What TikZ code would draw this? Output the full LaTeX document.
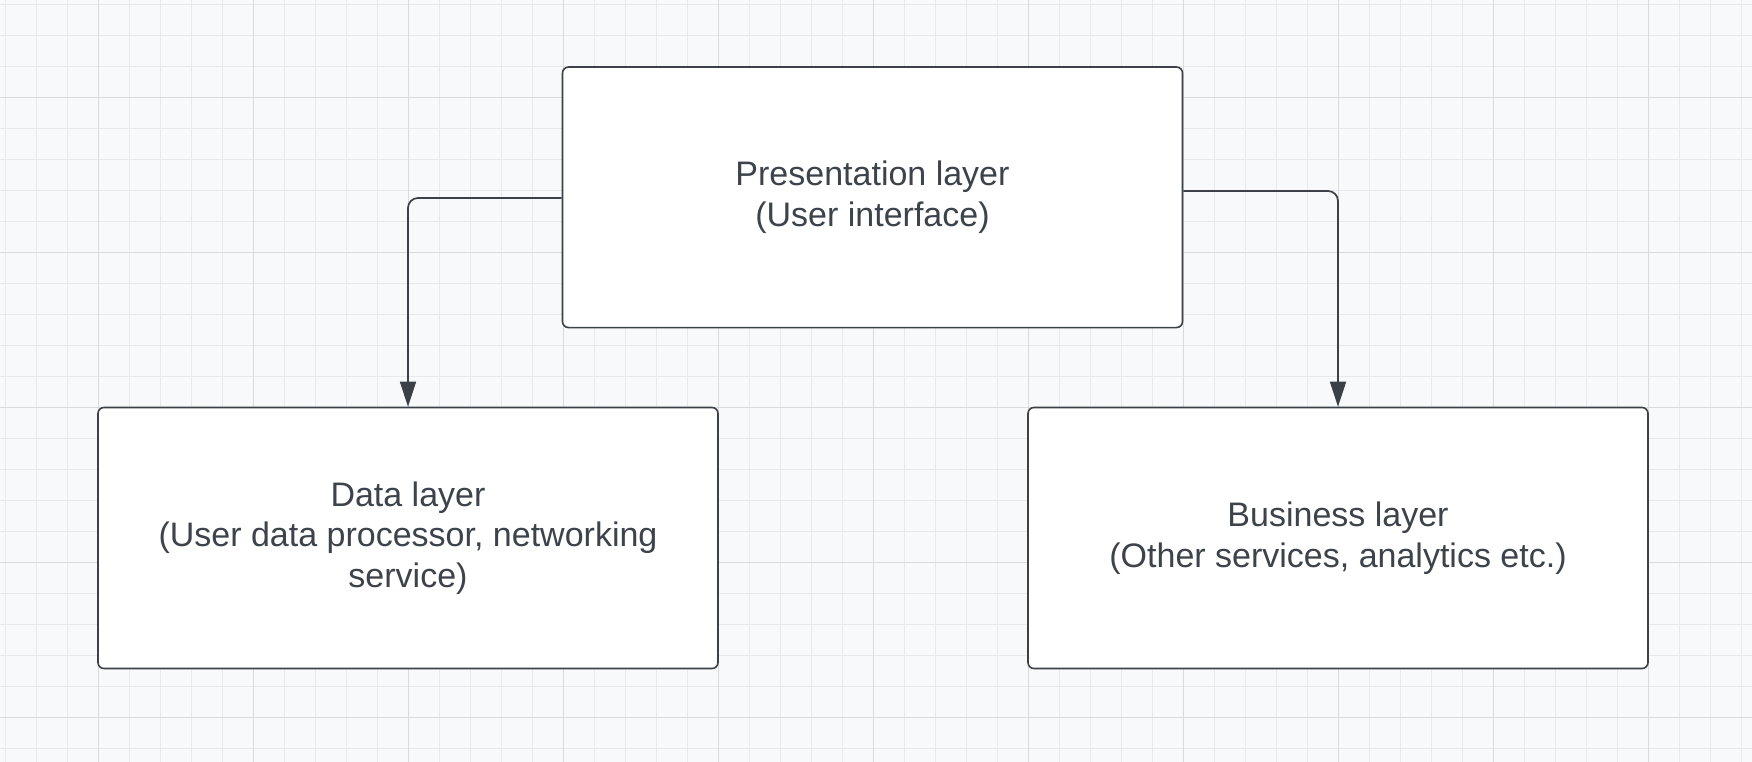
\documentclass[tikz,border=0pt]{standalone}
\usepackage{fontspec}
\setmainfont{Liberation Sans}
\usetikzlibrary{arrows.meta}
\definecolor{bgc}{HTML}{F8F9FB}
\definecolor{minorc}{HTML}{E7E9EC}
\definecolor{majorc}{HTML}{D8DADD}
\definecolor{linec}{HTML}{3C4148}
\definecolor{textc}{HTML}{3D434B}
\tikzset{
  layerbox/.style={draw=linec, line width=1.6pt, fill=white, rounded corners=6pt,
    minimum width=620pt, minimum height=261pt, align=center, text=textc,
    font=\fontsize{34pt}{40.5pt}\selectfont, inner sep=0pt},
  conn/.style={draw=linec, line width=1.7pt, rounded corners=10pt,
    -{Triangle[width=16pt,length=25pt]}},
  minorline/.style={draw=minorc, line width=1pt},
  majorline/.style={draw=majorc, line width=1.3pt}
}
\begin{document}
\begin{tikzpicture}[x=1pt,y=-1pt]
\useasboundingbox (0,0) rectangle (1752,762);
\fill[bgc] (0,0) rectangle (1752,762);
% grid
\foreach \i in {0,...,56} { \draw[minorline] ({5.3+31*\i},0) -- ({5.3+31*\i},762); }
\foreach \j in {0,...,24} { \draw[minorline] (0,{4.3+31*\j}) -- (1752,{4.3+31*\j}); }
\foreach \i in {0,...,10} { \draw[majorline] ({98.3+155*\i},0) -- ({98.3+155*\i},762); }
\foreach \j in {0,...,4} { \draw[majorline] (0,{97.3+155*\j}) -- (1752,{97.3+155*\j}); }
% boxes
\node[layerbox, minimum height=260.5pt] (pres) at (872.5,197.3) {Presentation layer\\(User interface)};
\node[layerbox] (data) at (408,538) {Data layer\\(User data processor, networking\\service)};
\node[layerbox] (biz) at (1338,538) {Business layer\\(Other services, analytics etc.)};
% connectors
\draw[conn] ([yshift=-0.7pt]pres.west) -| (data.north);
\draw[conn] ([yshift=6.3pt]pres.east) -| (biz.north);
\end{tikzpicture}
\end{document}
